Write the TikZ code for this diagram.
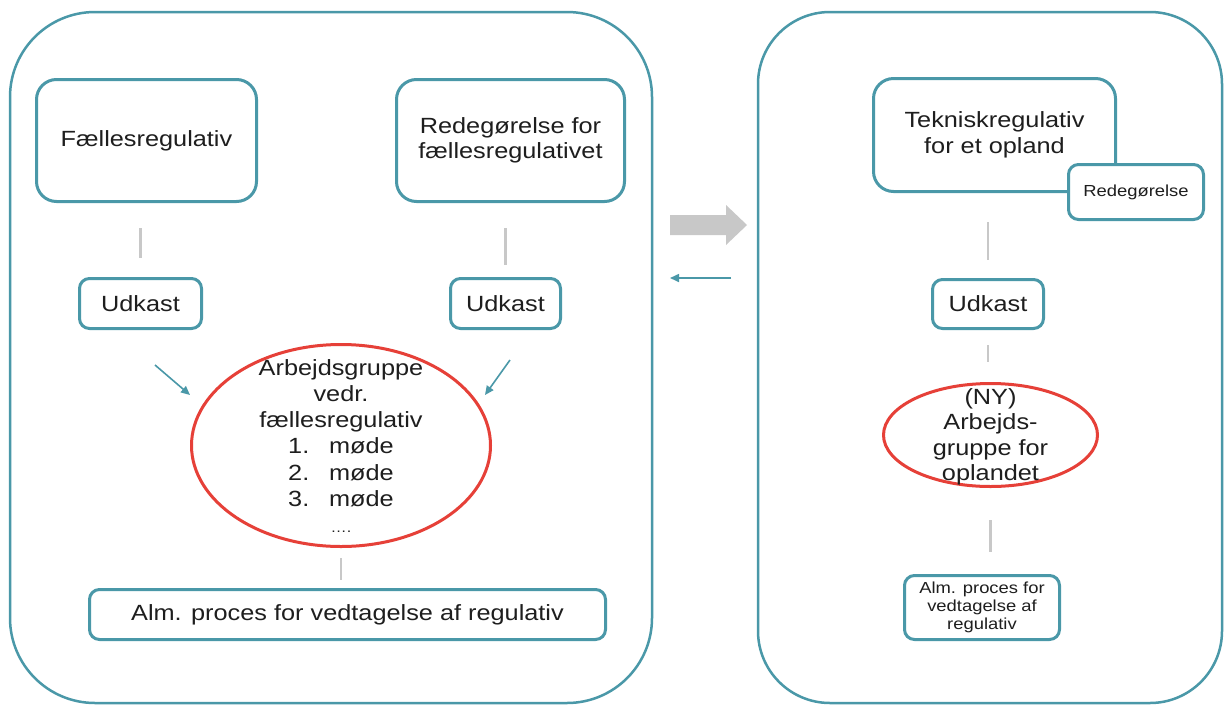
\documentclass[tikz,border=0pt]{standalone}
\usepackage{fontspec}
\setmainfont{Liberation Sans}[FakeStretch=1.15]
\usetikzlibrary{arrows.meta,shapes.geometric}
\definecolor{teal1}{RGB}{74,152,168}
\definecolor{red1}{RGB}{230,64,56}
\definecolor{gray1}{RGB}{200,200,200}
\definecolor{txt}{RGB}{30,30,30}
\begin{document}
\begin{tikzpicture}[x=1pt,y=-1pt,
  bigframe/.style={draw=teal1,line width=2.5pt},
  box/.style={draw=teal1,line width=3pt,fill=white,align=center,inner sep=0pt,
    text=txt,font=\fontsize{22}{25.5}\selectfont},
  bigbox/.style={box,rounded corners=20pt},
  smallbox/.style={box,rounded corners=10pt},
  tinybox/.style={box,rounded corners=10pt,font=\fontsize{16}{18}\selectfont},
  oval/.style={ellipse,draw=red1,line width=3pt,inner sep=0pt},
  ovaltext/.style={align=center,inner sep=0pt,text=txt},
  conn/.style={draw=gray1,line width=2.5pt},
  tarrow/.style={draw=teal1,line width=1.6pt,-{Triangle[length=9pt,width=8pt]}}
]
\useasboundingbox (0,0) rectangle (1224,705);
\fill[white] (0,0) rectangle (1224,705);

% big frames
\draw[bigframe,rounded corners=85pt] (10,12) rectangle (652,703);
\draw[bigframe,rounded corners=72pt] (758,12) rectangle (1222,703);

% left panel
\node[bigbox,minimum width=220pt,minimum height=122pt] (fr) at (146.5,140.5) {Fællesregulativ};
\node[bigbox,minimum width=228pt,minimum height=122pt] (rf) at (510.5,140.5) {Redegørelse for\\fællesregulativet};
\node[smallbox,minimum width=122pt,minimum height=50pt] (u1) at (140.5,303.5) {Udkast};
\node[smallbox,minimum width=110pt,minimum height=50pt] (u2) at (505.5,303.5) {Udkast};
\node[oval,minimum width=299pt,minimum height=202pt] (e1) at (341,445.5) {};
\node[ovaltext,font=\fontsize{22}{26.1}\selectfont] (e1t) at (341,446)
  {Arbejdsgruppe\\vedr.\\fællesregulativ\\1.\hspace{0.9em}møde\\2.\hspace{0.9em}møde\\3.\hspace{0.9em}møde\\{\fontsize{14}{19}\selectfont ….}};
\node[smallbox,minimum width=516pt,minimum height=50pt] (a1) at (347.5,614.5) {Alm. proces for vedtagelse af regulativ};

\draw[conn,shorten <=25pt,shorten >=19pt] (fr.south -| u1) -- (u1.north);
\draw[conn,shorten <=25pt,shorten >=12pt] (rf.south -| u2) -- (u2.north);
\draw[conn,shorten <=10pt,shorten >=8pt] (e1.south) -- (a1.north -| e1.south);

\coordinate (t1s) at (155,365);
\coordinate (t1e) at (190,395);
\coordinate (t2s) at (510,360);
\coordinate (t2e) at (485,395);
\draw[tarrow] (t1s) -- (t1e);
\draw[tarrow] (t2s) -- (t2e);

% middle arrows
\fill[gray1] (670,215) -- (726,215) -- (726,205) -- (747,225) -- (726,245) -- (726,235) -- (670,235) -- cycle;
\coordinate (m1) at (731,278);
\coordinate (m2) at (670,278);
\draw[tarrow] (m1) -- (m2);

% right panel
\node[bigbox,minimum width=242pt,minimum height=113pt] (tk) at (994.5,135) {Tekniskregulativ\\for et opland};
\node[tinybox,minimum width=135pt,minimum height=55pt] (rd) at (1136,192) {Redegørelse};
\node[smallbox,minimum width=111pt,minimum height=49pt] (u3) at (988,304) {Udkast};
\node[oval,minimum width=214pt,minimum height=103pt] (e2) at (990.5,435) {};
\node[ovaltext,font=\fontsize{22}{25.5}\selectfont] (e2t) at (990.5,437) {(NY)\\Arbejds-\\gruppe for\\oplandet};
\node[tinybox,minimum width=155pt,minimum height=64pt] (a2) at (982,607.5) {Alm. proces for\\vedtagelse af\\regulativ};

\draw[conn,shorten <=29pt,shorten >=18pt] (tk.south -| u3) -- (u3.north);
\draw[conn,shorten <=15pt,shorten >=20pt] (u3.south) -- (e2.north -| u3.south);
\draw[conn,shorten <=32pt,shorten >=22pt] (e2.south) -- (a2.north -| e2.south);
\end{tikzpicture}
\end{document}
